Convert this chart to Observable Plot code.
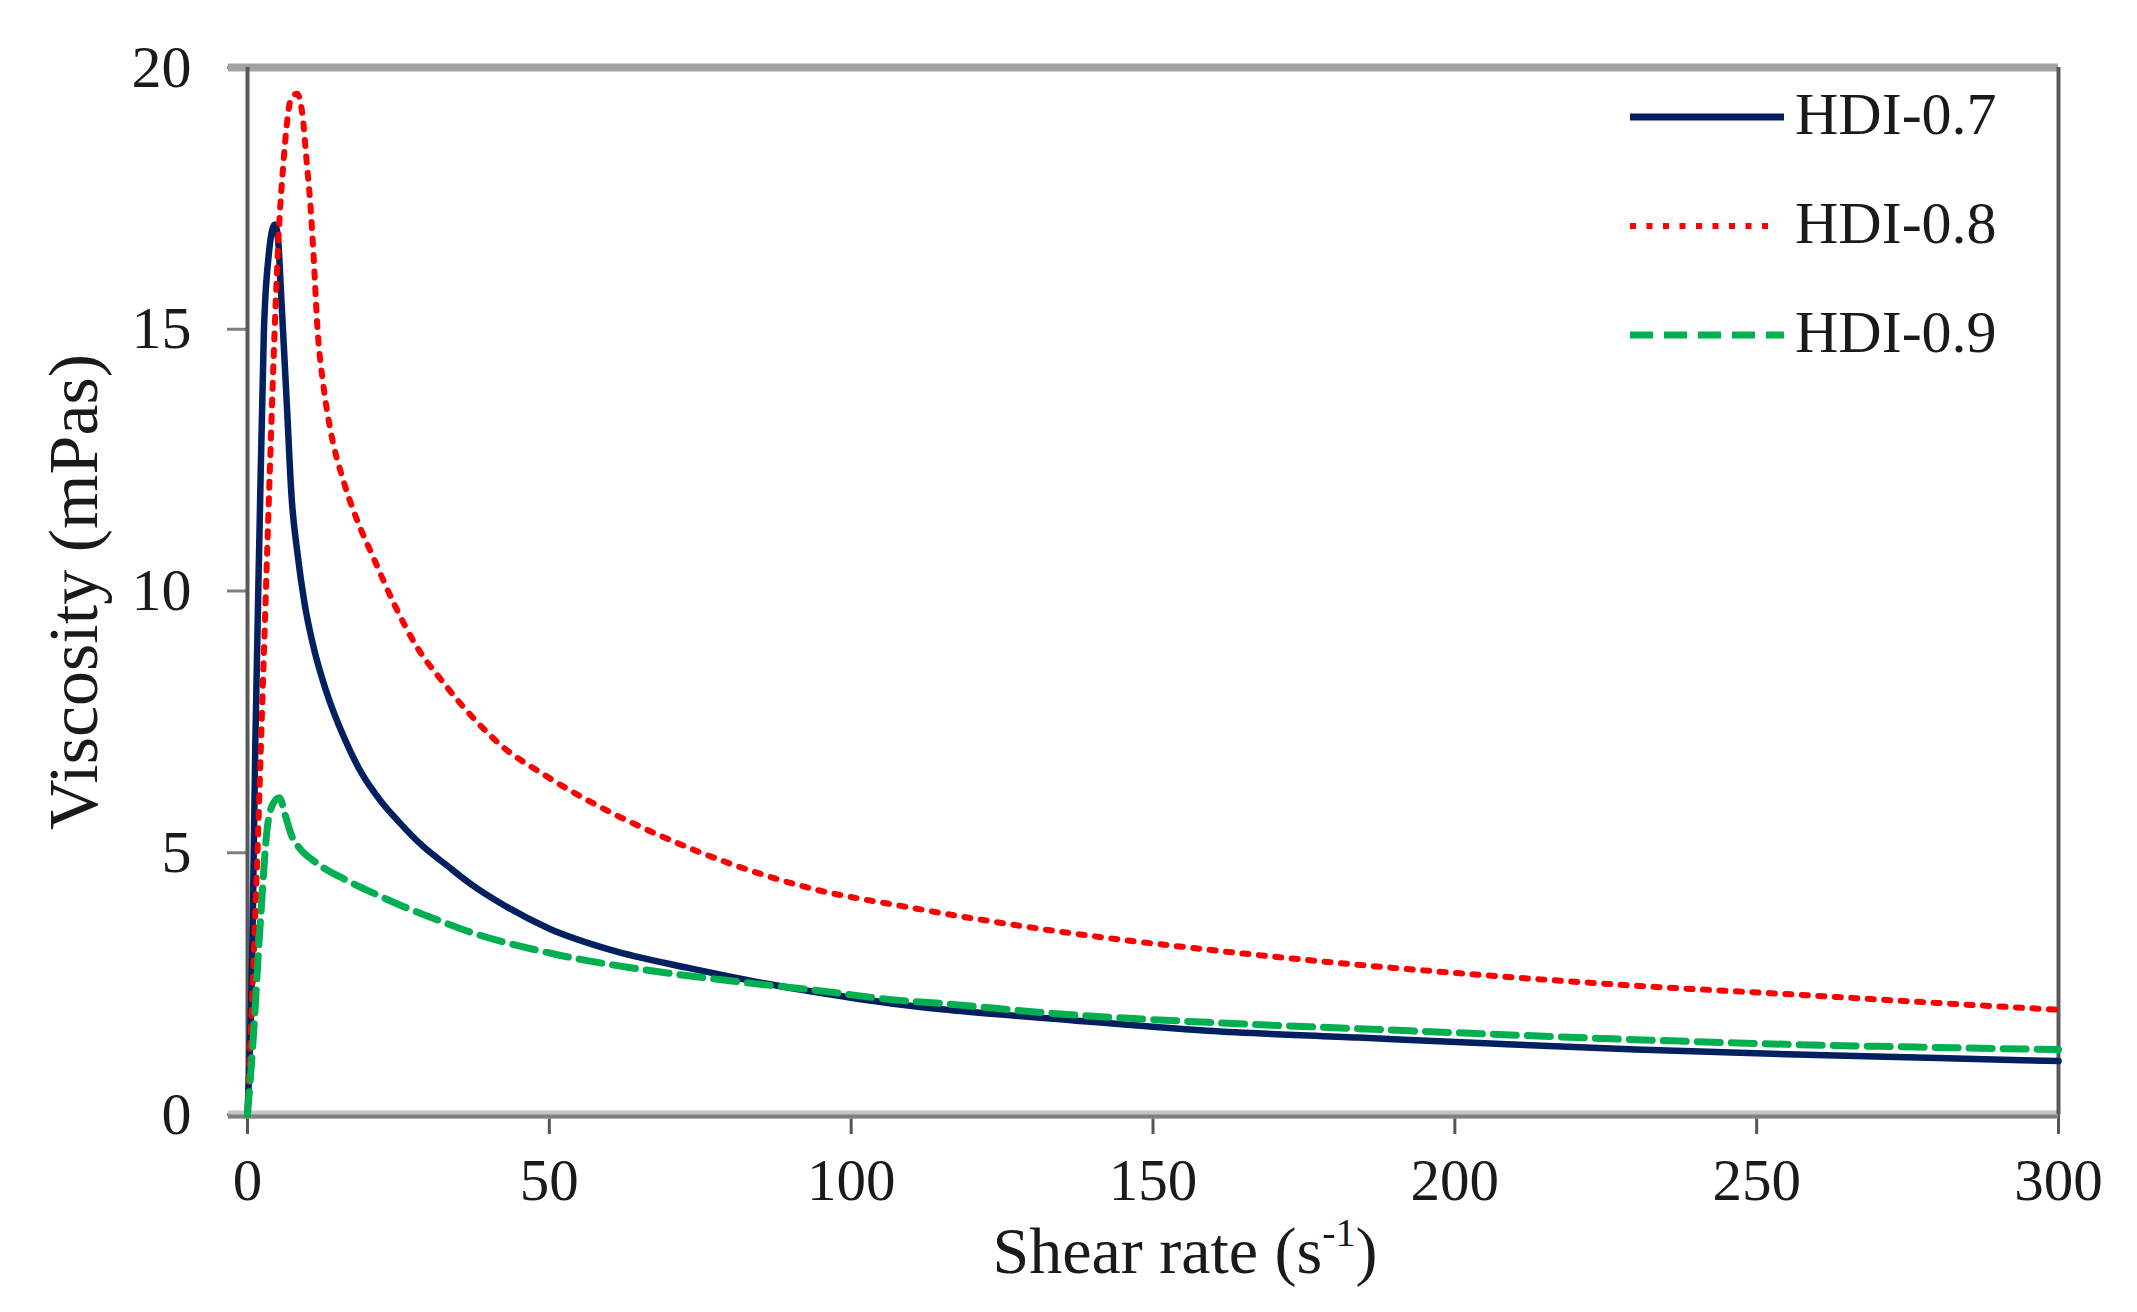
<!DOCTYPE html>
<html>
<head>
<meta charset="utf-8">
<script src="https://cdn.jsdelivr.net/npm/d3@7"></script>
<script src="https://cdn.jsdelivr.net/npm/@observablehq/plot@0.6"></script>
<style>
  html, body { margin: 0; padding: 0; background: #ffffff; }
  #chart { width: 2137px; height: 1312px; }
</style>
</head>
<body>
<div id="chart"></div>
<script>
// ---- Data ----
const seriesNames = ["HDI-0.7", "HDI-0.8", "HDI-0.9"];
const seriesColors = ["#002060", "#ff0000", "#00b050"];

const shear07 = [0, 0.8, 1.3, 2.0, 2.7, 3.5, 4.5, 5.0, 5.6, 6.5, 7.3, 8.3, 9.4, 11, 13, 16, 19, 22, 25, 29, 33, 37, 42, 50, 60, 73, 85, 95, 108, 115, 133.5, 159, 184, 205, 230, 255, 280, 300];
const visc07  = [0, 3.2, 7.1, 11.2, 14.9, 16.4, 17.0, 16.8, 15.6, 13.6, 11.8, 10.7, 9.8, 8.9, 8.1, 7.2, 6.5, 6.0, 5.6, 5.13, 4.76, 4.4, 4.03, 3.55, 3.15, 2.8, 2.52, 2.32, 2.1, 2.01, 1.83, 1.6, 1.47, 1.36, 1.24, 1.15, 1.08, 1.02];

const shear08 = [0, 1.5, 2.6, 3.7, 4.5, 5.3, 5.9, 6.5, 7.2, 8.2, 9.1, 9.8, 10.4, 10.9, 11.6, 12.6, 13.7, 15.9, 18, 21, 24.3, 27.7, 32.8, 38, 42, 49, 58, 68.3, 81, 94, 108, 120, 133.5, 159, 184, 205, 230, 255, 280, 300];
const visc08  = [0, 4.5, 8.4, 12.3, 15.0, 17.1, 18.1, 18.9, 19.4, 19.5, 19.1, 18.2, 17.4, 16.5, 15.0, 13.9, 13.1, 12.1, 11.4, 10.6, 9.75, 9.0, 8.2, 7.5, 7.05, 6.5, 5.9, 5.33, 4.75, 4.3, 3.99, 3.75, 3.51, 3.15, 2.86, 2.66, 2.46, 2.3, 2.13, 2.0];

const shear09 = [0, 0.8, 2.2, 3.3, 4.3, 5.3, 6.3, 7.4, 8.4, 11.5, 16.5, 21, 25.9, 31.4, 36, 50.6, 65.4, 80.2, 95, 108, 115, 133.5, 159, 184, 205, 230, 255, 280, 300];
const visc09  = [0, 1.2, 3.8, 5.5, 5.95, 6.05, 5.7, 5.3, 5.12, 4.8, 4.47, 4.22, 3.97, 3.72, 3.52, 3.07, 2.77, 2.55, 2.36, 2.18, 2.12, 1.93, 1.76, 1.64, 1.54, 1.43, 1.34, 1.28, 1.24];

const xTicks = [0, 50, 100, 150, 200, 250, 300];
const yTicks = [0, 5, 10, 15, 20];
const xTitle = "Shear rate (s";
const xTitleSup = "-1";
const yTitle = "Viscosity (mPas)";

// ---- Build tables ----
const toRows = (xs, ys, name) => xs.map((x, i) => ({shear: x, visc: ys[i], series: name}));
const rows07 = toRows(shear07, visc07, seriesNames[0]);
const rows08 = toRows(shear08, visc08, seriesNames[1]);
const rows09 = toRows(shear09, visc09, seriesNames[2]);

const FONT = "'Liberation Serif', 'Times New Roman', 'DejaVu Serif', serif";

const svg = Plot.plot({
  width: 2137,
  height: 1312,
  marginLeft: 247,
  marginRight: 79,
  marginTop: 67,
  marginBottom: 198,
  style: {fontFamily: FONT, fontSize: "60px", background: "#ffffff", color: "#1a1a1a"},
  x: {domain: [0, 300]},
  y: {domain: [0, 20]},
  marks: [
    Plot.axisY({ticks: yTicks, tickSize: 20, tickPadding: 36, label: null, stroke: "#7f7f7f", strokeWidth: 3, fill: "#1a1a1a", fontSize: 60}),
    Plot.axisX({ticks: xTicks, tickSize: 20, tickPadding: 24, label: null, stroke: "#555555", strokeWidth: 3, fill: "#1a1a1a", fontSize: 59}),
    // frame
    Plot.ruleY([20], {stroke: "#a3a3a3", strokeWidth: 8, insetLeft: -19}),
    Plot.ruleY([0], {stroke: "#c4c4c4", strokeWidth: 8, insetLeft: -19}),
    Plot.ruleY([0], {stroke: "#808080", strokeWidth: 4, dy: 2, insetLeft: -19}),
    Plot.ruleX([0], {stroke: "#595959", strokeWidth: 4}),
    Plot.ruleX([300], {stroke: "#595959", strokeWidth: 4}),
    // series
    Plot.line(rows07, {x: "shear", y: "visc", stroke: seriesColors[0], strokeWidth: 6.5, curve: "monotone-x"}),
    Plot.line(rows08, {x: "shear", y: "visc", stroke: seriesColors[1], strokeWidth: 6, strokeDasharray: "6,10.5", curve: "monotone-x"}),
    Plot.line(rows09, {x: "shear", y: "visc", stroke: seriesColors[2], strokeWidth: 7, strokeDasharray: "23,11", curve: "monotone-x"})
  ]
});

document.getElementById("chart").appendChild(svg);

const s = d3.select(svg);

// Axis titles
const xt = s.append("text")
  .attr("x", 1185).attr("y", 1273)
  .attr("text-anchor", "middle")
  .attr("font-family", FONT).attr("font-size", 66).attr("fill", "#1a1a1a");
xt.append("tspan").text(xTitle);
xt.append("tspan").attr("font-size", 40).attr("dy", -27).text(xTitleSup);
xt.append("tspan").attr("dy", 27).text(")");

s.append("text")
  .attr("transform", "translate(97,592) rotate(-90)")
  .attr("text-anchor", "middle")
  .attr("font-family", FONT).attr("font-size", 70).attr("fill", "#1a1a1a")
  .text(yTitle);

// Legend
const legendY = [117, 226, 335];
const legendDash = [null, "6,10.5", "23,11"];
const legendWidth = [7, 6, 7];
const legendEnd = [1784, 1772, 1784];
seriesNames.forEach((name, i) => {
  const ln = s.append("line")
    .attr("x1", 1630).attr("x2", legendEnd[i])
    .attr("y1", legendY[i]).attr("y2", legendY[i])
    .attr("stroke", seriesColors[i]).attr("stroke-width", legendWidth[i]);
  if (legendDash[i]) ln.attr("stroke-dasharray", legendDash[i]);
  s.append("text")
    .attr("x", 1795).attr("y", legendY[i] + 17)
    .attr("text-anchor", "start")
    .attr("font-family", FONT).attr("font-size", 60).attr("fill", "#1a1a1a")
    .text(name);
});
</script>
</body>
</html>
